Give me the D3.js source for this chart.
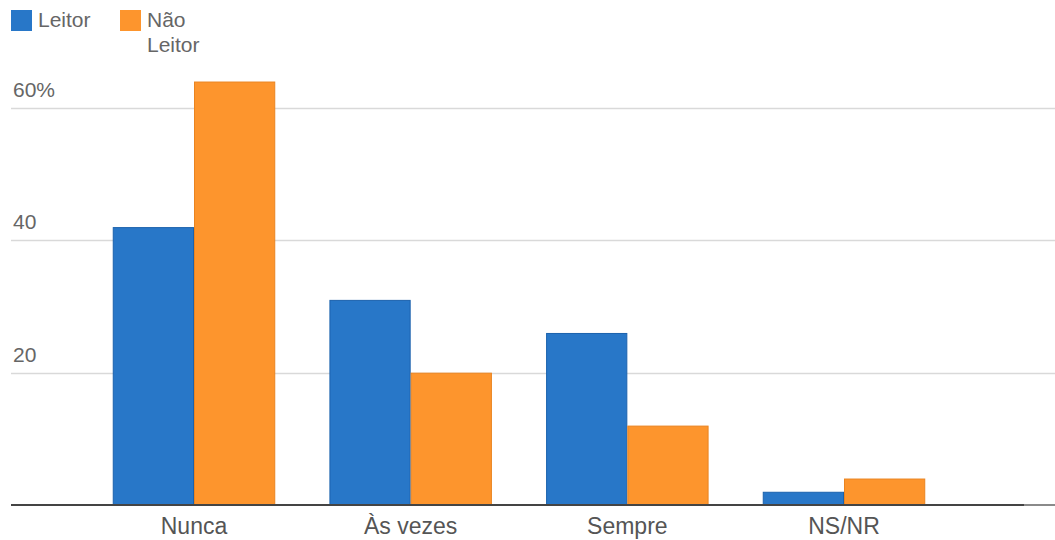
<!DOCTYPE html>
<html>
<head>
<meta charset="utf-8">
<script src="https://cdn.jsdelivr.net/npm/d3@7"></script>
<style>
  body { margin: 0; background: #fff; }
  svg { display: block; font-family: "Liberation Sans", Arial, sans-serif; }
</style>
</head>
<body>
<div id="chart"></div>
<script>
// Data
const categories = ["Nunca", "Às vezes", "Sempre", "NS/NR"];
const seriesNames = ["Leitor", "Não Leitor"];
const leitor = [42, 31, 26, 2];
const naoLeitor = [64, 20, 12, 4];
const yTicks = [20, 40, 60];

const width = 1055, height = 540;
const colors = ["#2877c8", "#fd952d"];
const strokes = ["#1b62ad", "#ea8420"];

const svg = d3.select("#chart").append("svg")
    .attr("width", width)
    .attr("height", height);

const x = d3.scaleBand()
    .domain(categories)
    .range([12, 1026])
    .paddingInner(0.25)
    .paddingOuter(0.465);

const xs = d3.scaleBand()
    .domain(seriesNames)
    .range([0, x.bandwidth()]);

const y = d3.scaleLinear()
    .domain([0, 60])
    .range([505, 108]);

// gridlines
svg.append("g")
    .selectAll("line")
    .data(yTicks)
    .enter().append("line")
    .attr("x1", 11)
    .attr("x2", 1055)
    .attr("y1", d => Math.round(y(d)) + 0.5)
    .attr("y2", d => Math.round(y(d)) + 0.5)
    .attr("stroke", "#d9d9d9")
    .attr("stroke-width", 1.5);

// tick labels
svg.append("g")
    .selectAll("text")
    .data(yTicks)
    .enter().append("text")
    .attr("x", 13)
    .attr("y", d => y(d) - 11)
    .attr("fill", "#666")
    .style("font-size", "21px")
    .text(d => d === 60 ? d + "%" : d);

// bars
const rows = categories.map((c, i) => ({cat: c, vals: [leitor[i], naoLeitor[i]]}));

const group = svg.append("g")
    .selectAll("g")
    .data(rows)
    .enter().append("g")
    .attr("transform", d => `translate(${x(d.cat)},0)`);

group.selectAll("rect")
    .data(d => d.vals.map((v, j) => ({v: v, j: j})))
    .enter().append("rect")
    .attr("x", d => xs(seriesNames[d.j]) + 0.5)
    .attr("y", d => y(d.v) + 0.5)
    .attr("width", xs.bandwidth() - 1)
    .attr("height", d => y(0) - y(d.v) - 0.5)
    .attr("fill", d => colors[d.j])
    .attr("stroke", d => strokes[d.j])
    .attr("stroke-width", 1);

// baseline
svg.append("line")
    .attr("x1", 1024).attr("x2", 1055)
    .attr("y1", y(0)).attr("y2", y(0))
    .attr("stroke", "#8a8a8a")
    .attr("stroke-width", 2);
svg.append("line")
    .attr("x1", 11).attr("x2", 1024)
    .attr("y1", y(0)).attr("y2", y(0))
    .attr("stroke", "#444")
    .attr("stroke-width", 2);

// category labels
svg.append("g")
    .selectAll("text")
    .data(categories)
    .enter().append("text")
    .attr("x", d => x(d) + x.bandwidth() / 2)
    .attr("y", 534)
    .attr("text-anchor", "middle")
    .attr("fill", "#555")
    .style("font-size", "23px")
    .text(d => d);

// legend
const legend = svg.append("g");
const legendX = [11, 120];
seriesNames.forEach((name, i) => {
    legend.append("rect")
        .attr("x", legendX[i])
        .attr("y", 10)
        .attr("width", 21)
        .attr("height", 21)
        .attr("fill", colors[i]);
    const t = legend.append("text")
        .attr("x", legendX[i] + 27)
        .attr("y", 27)
        .attr("fill", "#666")
        .style("font-size", "21px");
    const words = name.split(" ");
    words.forEach((w, k) => {
        t.append("tspan")
            .attr("x", legendX[i] + 27)
            .attr("dy", k === 0 ? 0 : 25)
            .text(w);
    });
});
</script>
</body>
</html>
